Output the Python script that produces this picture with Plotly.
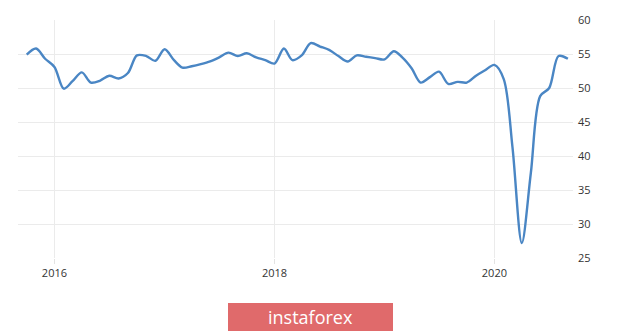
import plotly.graph_objects as go
import pandas as pd

dates = pd.date_range("2015-10-01", "2020-09-01", freq="MS")
values = [
    54.9, 55.8, 54.3, 53.1, 49.9, 51.0, 52.3, 50.8, 51.1, 51.8, 51.4, 52.2,  # Oct15-Sep16
    54.8, 54.7, 54.0, 55.7, 54.1, 53.0, 53.2, 53.5, 53.9, 54.5, 55.2, 54.7,  # Oct16-Sep17
    55.1, 54.5, 54.1, 53.6, 55.8, 54.1, 54.8, 56.6, 56.1, 55.6, 54.7, 53.9,  # Oct17-Sep18
    54.8, 54.6, 54.4, 54.2, 55.4, 54.5, 52.9, 50.8, 51.6, 52.4, 50.6, 50.9,  # Oct18-Sep19
    50.8, 51.8, 52.6, 53.4, 51.3, 41.3, 27.2, 37.5, 48.8, 50.0, 54.7, 54.3,  # Oct19-Sep20
]
x_tick_vals = ["2016-01-01", "2018-01-01", "2020-01-01"]
x_tick_text = ["2016", "2018", "2020"]
y_tick_vals = [25, 30, 35, 40, 45, 50, 55, 60]
watermark_text = "instaforex"

fig = go.Figure()
fig.add_trace(go.Scatter(
    x=dates, y=values, mode="lines",
    line=dict(color="#4a86c4", width=2.4, shape="spline", smoothing=0.9),
    hoverinfo="skip",
))

L, R, T, B = 18, 47, 16, 75
W, H = 620, 333

fig.update_layout(
    width=W, height=H,
    margin=dict(l=L, r=R, t=T, b=B, pad=0),
    paper_bgcolor="white", plot_bgcolor="white",
    showlegend=False,
    font=dict(family="Open Sans, sans-serif", size=11, color="#333333"),
    xaxis=dict(
        range=["2015-09-02", "2020-09-18"],
        tickvals=x_tick_vals, ticktext=x_tick_text,
        showgrid=True, gridcolor="#ebebeb", gridwidth=1,
        ticks="outside", ticklen=5, tickcolor="#e3e3e3",
        showline=False, zeroline=False,
        tickfont=dict(size=11, color="#333333"),
    ),
    yaxis=dict(
        range=[25, 60], side="right",
        tickvals=y_tick_vals,
        showgrid=True, gridcolor="#ebebeb", gridwidth=1,
        showline=False, zeroline=False,
        ticks="", ticklabelstandoff=4,
        tickfont=dict(size=11, color="#333333"),
    ),
)

plot_w = W - L - R
plot_h = H - T - B
cx, cy = 310.5, 318
fig.add_annotation(
    xref="paper", yref="paper",
    x=(cx - L) / plot_w, y=(H - B - cy) / plot_h,
    text=watermark_text, showarrow=False,
    xanchor="center", yanchor="middle",
    width=165, height=28, bgcolor="#e06a6b",
    borderpad=0, borderwidth=0,
    font=dict(family="Open Sans, sans-serif", size=18, color="white"),
)

fig.write_html("out.html")
